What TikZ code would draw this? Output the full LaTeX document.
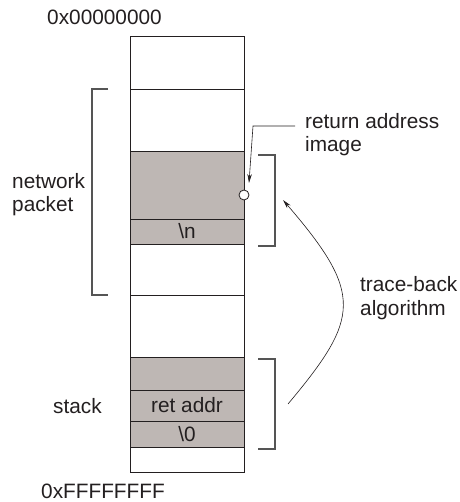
\documentclass[tikz,border=0pt]{standalone}
\usepackage{fontspec}
\setmainfont{Liberation Sans}
\usetikzlibrary{arrows.meta}
\definecolor{shade}{RGB}{190,183,180}
\definecolor{ink}{RGB}{35,31,32}
\definecolor{brk}{RGB}{85,85,85}
\begin{document}
\begin{tikzpicture}[x=1pt,y=-1pt,
  font=\fontsize{20.8}{23.5}\selectfont, text=ink,
  cell/.style={draw=ink, line width=0.8pt, minimum width=114pt, inner sep=0pt, outer sep=0pt, anchor=north},
  shaded/.style={cell, fill=shade},
  bracket/.style={draw=brk, line width=1.1pt},
  lbl/.style={anchor=base west, align=left, inner sep=0pt},
  arr/.style={draw=ink, line width=0.6pt, -{Stealth[length=9pt,width=4.5pt]}}]
\useasboundingbox (0,0) rectangle (459,502);
\node[cell, minimum height=53pt] (c1) at (187,36) {};
\node[cell, minimum height=62pt] (c2) at (187,89) {};
\node[shaded, minimum height=68pt] (c3) at (187,151) {};
\node[shaded, minimum height=25pt] (c4) at (187,219) {\textbackslash n};
\node[cell, minimum height=51pt] (c5) at (187,244) {};
\node[cell, minimum height=62pt] (c6) at (187,295) {};
\node[shaded, minimum height=33pt] (c7) at (187,357) {};
\node[shaded, minimum height=31pt] (c8) at (187,390) {ret addr};
\node[shaded, minimum height=26pt] (c9) at (187,421) {\textbackslash 0};
\node[cell, minimum height=25pt] (c10) at (187,447) {};
% labels
\node[anchor=center, inner sep=0pt] (top) at (104.5,17.5) {0x00000000};
\node[anchor=center, inner sep=0pt] (bot) at (103,491) {0xFFFFFFFF};
\node[lbl] (np) at (12,212) {network\\packet};
\node[lbl] (ra) at (305,152) {return address\\image};
\node[lbl] (tb) at (360,315) {trace-back\\algorithm};
\node[lbl] (st) at (53,413) {stack};
% brackets
\draw[bracket] (108,89) -- (92,89) -- (92,295) -- (108,295);
\draw[bracket] (258,155) -- (275,155) -- (275,246) -- (258,246);
\draw[bracket] (258,359) -- (275,359) -- (275,449) -- (258,449);
% circle
\node[circle, draw=ink, fill=white, line width=0.8pt, minimum size=10pt, inner sep=0pt] (circ) at (244,195) {};
% leader arrow
\coordinate (raL) at (295,126);
\coordinate (raTip) at (249,183);
\draw[arr] (raL) -- (253,126) -- (raTip);
% trace-back curve
\coordinate (tbS) at (288,404);
\coordinate (tbE) at (283,200);
\draw[arr] (tbS) .. controls (360,318) and (364,294) .. (tbE);
\end{tikzpicture}
\end{document}
